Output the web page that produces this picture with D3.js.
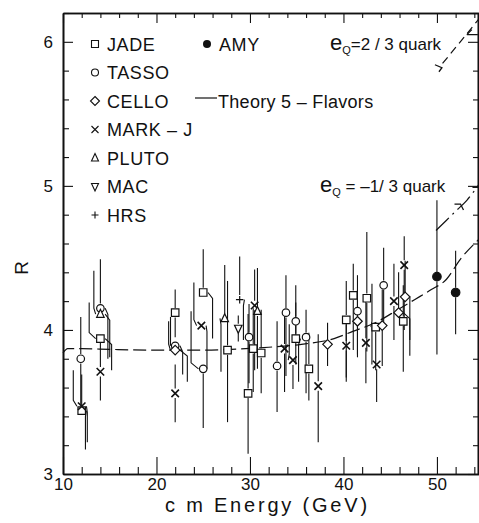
<!DOCTYPE html>
<html>
<head>
<meta charset="utf-8">
<script src="https://cdn.jsdelivr.net/npm/d3@7"></script>
<style>
  html, body { margin: 0; padding: 0; background: #fff; }
  svg { display: block; }
  text { font-family: 'Liberation Sans Narrow', 'Liberation Sans', Arial, sans-serif; fill: #111; }
</style>
</head>
<body>
<svg id="chart"></svg>
<script>
// each row: [energy, R, errUp, errDown, shiftUp, shiftDown] (shifts in GeV, for displaced bars)
const jade = [
    [12.0, 3.44, 0.25, 0.27, 0, 0.4],
    [14.0, 3.94, 0.25, 0.22, -1.2, 1.2],
    [22.0, 4.12, 0.16, 0.17, 0, 0],
    [25.0, 4.26, 0.30, 0.32, 0, 1.0],
    [27.6, 3.86, 0.48, 0.50, 0, 0],
    [29.8, 3.56, 0.55, 0.42, 0, 0],
    [30.35, 3.87, 0.28, 0.30, 0, 0],
    [31.2, 3.84, 0.30, 0.28, 0, 0],
    [34.9, 3.94, 0.25, 0.30, 0, 0.3],
    [36.3, 3.73, 0.25, 0.22, 0, 0],
    [40.3, 4.07, 0.27, 0.40, 0, 0],
    [41.05, 4.24, 0.22, 0.38, 0, 0],
    [42.5, 4.22, 0.46, 0.37, 0, 0],
    [43.45, 4.02, 0.30, 0.30, -0.4, 0],
    [46.4, 4.06, 0.25, 0.35, 0, 0]
];
const tasso = [
    [11.9, 3.80, 0.29, 0.32, 0, 0],
    [14.0, 4.15, 0.34, 0.35, 0, 0.8],
    [22.0, 3.89, 0.20, 0.20, -0.5, 0.8],
    [25.0, 3.73, 0.40, 0.41, -1.3, 0],
    [29.9, 3.95, 0.23, 0.32, 0, 0],
    [32.9, 3.75, 0.31, 0.32, 0, 0],
    [33.85, 4.12, 0.26, 0.44, 0, 0],
    [34.9, 4.06, 0.25, 0.30, 0, 0],
    [36.0, 3.95, 0.19, 0.39, 0, 0],
    [41.5, 4.13, 0.25, 0.30, 0, 0],
    [44.3, 4.31, 0.26, 0.26, 0, 0]
];
const cello = [
    [22.0, 3.86, 0.20, 0.22, -0.7, 1.3],
    [38.3, 3.90, 0.15, 0.15, 0, 0],
    [41.5, 4.06, 0.22, 0.25, 0, 0],
    [44.15, 4.03, 0.25, 0.28, 0, 0],
    [45.9, 4.12, 0.28, 0.30, 0, 1.2],
    [46.6, 4.23, 0.25, 0.30, 0, 0.5]
];
const markj = [
    [12.0, 3.47, 0.25, 0.25, -0.9, 0.6],
    [14.0, 3.71, 0.20, 0.20, 0, 0],
    [22.0, 3.56, 0.20, 0.20, 0, 0],
    [24.8, 4.03, 0.30, 0.30, -0.8, 0.6],
    [30.5, 4.17, 0.25, 0.45, 0, 0],
    [33.7, 3.87, 0.25, 0.30, 0, 0],
    [34.6, 3.79, 0.25, 0.20, -0.4, 0],
    [37.3, 3.61, 0.36, 0.39, 0, 0],
    [40.3, 3.89, 0.20, 0.25, 0, 0],
    [42.4, 3.91, 0.30, 0.28, 0, 0],
    [43.55, 3.76, 0.26, 0.26, -0.5, 0],
    [45.4, 4.20, 0.26, 0.27, 0, 0],
    [46.5, 4.45, 0.20, 0.45, 0, 0]
];
const pluto = [
    [14.0, 4.11, 0.30, 0.30, -0.7, 1.0],
    [27.3, 4.08, 0.37, 0.37, 0, -0.4],
    [30.8, 4.13, 0.30, 0.40, 0, 0]
];
const mac = [
    [28.75, 4.01, 0.09, 0.09, 0, 0]
];
const hrs = [
    [28.9, 4.21, 0.30, 0.28, 0, 0.4]
];
const amy = [
    [50.0, 4.37, 0.53, 0.54, 0, 0],
    [52.0, 4.26, 0.29, 0.29, 0, 0]
];

// theory curves
const theoryE = [10, 10.5, 12, 15, 20, 25, 28, 32, 35.5, 39, 41, 43.4, 45.8, 47.6, 49.4, 51, 52.5, 54.5];
const theoryR = [3.84, 3.87, 3.87, 3.865, 3.86, 3.86, 3.865, 3.88, 3.90, 3.94, 3.99, 4.05, 4.14, 4.21, 4.28, 4.35, 4.49, 4.63];
const minusThirdE = [49.9, 51, 52.1, 53.2, 54.6];
const minusThirdR = [4.69, 4.76, 4.83, 4.90, 5.02];
const twoThirdE = [50.6, 52.5, 54.5];
const twoThirdR = [5.85, 6.00, 6.16];

const legendNames = ["JADE", "TASSO", "CELLO", "MARK-J", "PLUTO", "MAC", "HRS"];
const xMajor = [10, 20, 30, 40, 50];
const yMajor = [3, 4, 5, 6];

const series = [
    { name: "JADE", sym: "square", data: jade },
    { name: "TASSO", sym: "circle", data: tasso },
    { name: "CELLO", sym: "diamond", data: cello },
    { name: "MARK-J", sym: "cross", data: markj },
    { name: "PLUTO", sym: "triUp", data: pluto },
    { name: "MAC", sym: "triDown", data: mac },
    { name: "HRS", sym: "plus", data: hrs },
    { name: "AMY", sym: "dot", data: amy }
];

const width = 479, height = 523;
const svg = d3.select("#chart").attr("width", width).attr("height", height);

const x = d3.scaleLinear().domain([10, 54.5]).range([63, 479]);
const y = d3.scaleLinear().domain([3, 6.2]).range([474, 13]);

const ink = "#111";

// symbol path generator (size in px)
function symbolPath(sym, s) {
    const h = s / 2;
    switch (sym) {
        case "square": return `M${-h},${-h}H${h}V${h}H${-h}Z`;
        case "circle": return `M${-h},0A${h},${h} 0 1,0 ${h},0A${h},${h} 0 1,0 ${-h},0Z`;
        case "diamond": return `M0,${-h - 1}L${h + 1},0L0,${h + 1}L${-h - 1},0Z`;
        case "cross": return `M${-h},${-h}L${h},${h}M${-h},${h}L${h},${-h}`;
        case "plus": return `M${-h},0H${h}M0,${-h}V${h}`;
        case "triUp": return `M0,${-h - 1}L${h},${h - 0.5}L${-h},${h - 0.5}Z`;
        case "triDown": return `M0,${h + 1}L${h},${-h + 0.5}L${-h},${-h + 0.5}Z`;
        case "dot": return `M${-h},0A${h},${h} 0 1,0 ${h},0A${h},${h} 0 1,0 ${-h},0Z`;
    }
}

// axes: bottom, top, left, right
const xMinor = d3.range(12, 55, 2).filter(v => v % 10 !== 0);
const yMinor = d3.range(3.2, 6.21, 0.2).filter(v => Math.abs(v - Math.round(v)) > 0.01);

const axes = svg.append("g").attr("class", "axes");

axes.append("g").attr("transform", `translate(0,${y(3)})`)
    .call(d3.axisBottom(x).tickValues(xMajor).tickSizeInner(-17).tickSizeOuter(0).tickPadding(4).tickFormat(d3.format("d")));
axes.append("g").attr("transform", `translate(0,${y(3)})`)
    .call(d3.axisBottom(x).tickValues(xMinor).tickSizeInner(-7).tickSizeOuter(0).tickFormat(""));
axes.append("g").attr("transform", `translate(0,${y(6.2)})`)
    .call(d3.axisTop(x).tickValues(xMajor).tickSizeInner(-10).tickSizeOuter(0).tickFormat(""));
axes.append("g").attr("transform", `translate(0,${y(6.2)})`)
    .call(d3.axisTop(x).tickValues(xMinor).tickSizeInner(-5).tickSizeOuter(0).tickFormat(""));
axes.append("g").attr("transform", `translate(${x(10)},0)`)
    .call(d3.axisLeft(y).tickValues(yMajor).tickSizeInner(-10).tickSizeOuter(0).tickPadding(10).tickFormat(d3.format("d")));
axes.append("g").attr("transform", `translate(${x(10)},0)`)
    .call(d3.axisLeft(y).tickValues(yMinor).tickSizeInner(-6).tickSizeOuter(0).tickFormat(""));
axes.append("g").attr("transform", `translate(${x(54.5) - 1},0)`)
    .call(d3.axisRight(y).tickValues(yMajor).tickSizeInner(-10).tickSizeOuter(0).tickFormat(""));
axes.append("g").attr("transform", `translate(${x(54.5) - 1},0)`)
    .call(d3.axisRight(y).tickValues(yMinor).tickSizeInner(-5).tickSizeOuter(0).tickFormat(""));

axes.selectAll(".domain").attr("stroke", ink).attr("stroke-width", 1.6);
axes.selectAll(".tick line").attr("stroke", ink).attr("stroke-width", 1.1);
axes.selectAll(".tick text").attr("font-size", 17).attr("fill", ink)
    .attr("font-family", "'Liberation Sans Narrow', 'Liberation Sans', Arial, sans-serif");

// axis titles
svg.append("text")
    .attr("x", 165).attr("y", 512)
    .attr("font-size", 20).attr("letter-spacing", 2.8)
    .text("c m  Energy (GeV)");
svg.append("text")
    .attr("transform", `translate(28,${y(4.43)}) rotate(-90)`)
    .attr("text-anchor", "middle").attr("font-size", 19)
    .text("R");

// theory lines
const line = d3.line().x(d => x(d[0])).y(d => y(d[1])).curve(d3.curveMonotoneX);
const plot = svg.append("g");

plot.append("path")
    .datum(theoryE.map((e, i) => [e, theoryR[i]]))
    .attr("d", line).attr("fill", "none").attr("stroke", ink).attr("stroke-width", 1.2)
    .attr("stroke-dasharray", "13,5");
plot.append("path")
    .datum(minusThirdE.map((e, i) => [e, minusThirdR[i]]))
    .attr("d", line).attr("fill", "none").attr("stroke", ink).attr("stroke-width", 1.2)
    .attr("stroke-dasharray", "18,5,2,5");
plot.append("path")
    .datum(twoThirdE.map((e, i) => [e, twoThirdR[i]]))
    .attr("d", line).attr("fill", "none").attr("stroke", ink).attr("stroke-width", 1.2)
    .attr("stroke-dasharray", "8,5");

// small pointer glyphs on the quark curves
function pointer(e, r, path) {
    plot.append("path")
        .attr("transform", `translate(${x(e)},${y(r)})`)
        .attr("d", path).attr("fill", "none").attr("stroke", ink).attr("stroke-width", 1.3);
}
pointer(50.0, 5.82, "M-2,-3L5,0L2,4");
pointer(53.2, 6.05, "M0,0H11M5,-5L0,0");
pointer(52.2, 4.86, "M-3,-2H3L6,4");
pointer(53.8, 4.99, "M0,0H8");

// error bars + markers
const pts = [];
series.forEach(s => s.data.forEach(d => pts.push({ sym: s.sym, e: d[0], r: d[1], up: d[2], dn: d[3], sUp: d[4] || 0, sDn: d[5] || 0 })));

const bars = plot.append("g");
const mark = 7.5;
pts.forEach(p => {
    const px = x(p.e), py = y(p.r);
    const half = mark / 2 + 1;
    [[p.up, p.sUp, -1], [p.dn, p.sDn, 1]].forEach(([err, shift, dir]) => {
        const yEnd = y(p.r - dir * err);
        let dstr;
        if (shift === 0) {
            dstr = `M${px},${py + dir * half}V${yEnd}`;
        } else {
            const xs = x(p.e + shift);
            const sx = px + Math.sign(shift) * half;
            dstr = `M${sx},${py}L${xs},${py + dir * 6}V${yEnd}`;
        }
        bars.append("path").attr("d", dstr).attr("fill", "none")
            .attr("stroke", ink).attr("stroke-width", 1.1);
    });
});

plot.append("g").selectAll("path.pt")
    .data(pts)
    .join("path")
    .attr("class", "pt")
    .attr("transform", d => `translate(${x(d.e)},${y(d.r)})`)
    .attr("d", d => symbolPath(d.sym, d.sym === "dot" ? 8.5 : mark))
    .attr("fill", d => d.sym === "dot" ? ink : (d.sym === "cross" || d.sym === "plus" ? "none" : "#fff"))
    .attr("stroke", ink)
    .attr("stroke-width", d => d.sym === "cross" ? 1.6 : 1.2);

// legend
const legend = svg.append("g");
const legendY = d3.scaleLinear().domain([0, 6]).range([44, 215]);
legendNames.forEach((n, i) => {
    const s = series.find(t => t.name === n);
    legend.append("path")
        .attr("transform", `translate(95,${legendY(i)})`)
        .attr("d", symbolPath(s.sym, 7))
        .attr("fill", s.sym === "cross" || s.sym === "plus" ? "none" : "#fff")
        .attr("stroke", ink).attr("stroke-width", 1.1);
    legend.append("text")
        .attr("x", 107).attr("y", legendY(i) + 6.5)
        .attr("font-size", 18).attr("letter-spacing", 0.6)
        .text(n === "MARK-J" ? "MARK – J" : n);
});
legend.append("path")
    .attr("transform", `translate(207,${legendY(0)})`)
    .attr("d", symbolPath("dot", 8)).attr("fill", ink);
legend.append("text")
    .attr("x", 219).attr("y", legendY(0) + 6.5)
    .attr("font-size", 18).attr("letter-spacing", 0.6).text("AMY");
legend.append("line")
    .attr("x1", 195).attr("x2", 217).attr("y1", legendY(2) - 3).attr("y2", legendY(2) - 3)
    .attr("stroke", ink).attr("stroke-width", 1.2);
legend.append("text")
    .attr("x", 218).attr("y", legendY(2) + 6.5)
    .attr("font-size", 18).attr("letter-spacing", 0.3).text("Theory 5 – Flavors");

// quark labels
function quarkLabel(px, py, rest) {
    const t = svg.append("text").attr("x", px).attr("y", py);
    t.append("tspan").attr("font-size", 22).text("e");
    t.append("tspan").attr("font-size", 11).attr("dy", 4).text("Q");
    t.append("tspan").attr("font-size", 17).attr("dy", -4).text(rest);
}
quarkLabel(330, 50, "=2 / 3 quark");
quarkLabel(320, 192, " = –1/ 3 quark");
</script>
</body>
</html>
